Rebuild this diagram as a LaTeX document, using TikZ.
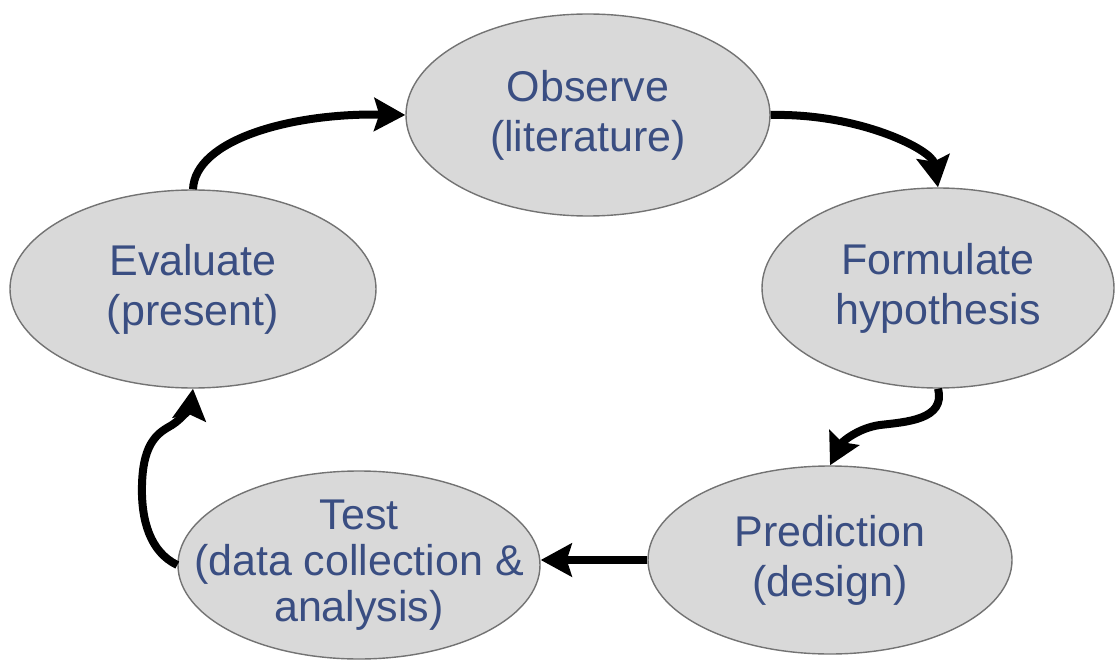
\documentclass[tikz,border=0pt]{standalone}
\usepackage{fontspec}
\setmainfont{Liberation Sans}
\usetikzlibrary{shapes.geometric,arrows.meta}
\definecolor{ellfill}{RGB}{217,217,217}
\definecolor{elldraw}{RGB}{115,115,115}
\definecolor{txtblue}{RGB}{58,78,130}
\tikzset{
  ell/.style={ellipse, draw=elldraw, fill=ellfill, line width=1.4pt, inner sep=0pt},
  lbl/.style={align=center, text=txtblue, font=\fontsize{43}{50}\selectfont, inner sep=0pt},
  conn/.style={line width=8pt, -{Stealth[length=31pt,width=33pt,inset=5pt]}},
}
\begin{document}
\begin{tikzpicture}[x=1pt,y=-1pt]
\useasboundingbox (0,0) rectangle (1115,660);
\fill[white] (0,0) rectangle (1115,660);

\node[ell, minimum width=364pt, minimum height=202pt] (obs) at (588,115) {};
\node[ell, minimum width=352pt, minimum height=200pt] (form) at (938,288) {};
\node[ell, minimum width=364pt, minimum height=188pt] (pred) at (830,560) {};
\node[ell, minimum width=362pt, minimum height=188pt] (test) at (359,565) {};
\node[ell, minimum width=366pt, minimum height=198pt] (eval) at (193,289) {};

\node[lbl] (obsT) at (obs) {Observe\\(literature)};
\node[lbl] (formT) at (form) {Formulate\\hypothesis};
\node[lbl] (predT) at (pred) {Prediction\\(design)};
\node[lbl, font=\fontsize{43}{46}\selectfont] (testT) at (test) {Test\\(data collection \&\\analysis)};
\node[lbl] (evalT) at (eval) {Evaluate\\(present)};

\draw[conn] (eval.north) .. controls (195,140) and (290,113) .. (obs.west);
\draw[conn] (obs.east) .. controls (860,113) and (932,150) .. (form.north);
\draw[conn] (form.south) .. controls (946,420) and (905,422) .. (880,425)
  .. controls (858,428) and (842,442) .. (pred.north);
\draw[conn] (pred.west) -- (test.east |- pred.west);
\draw[conn] (test.west) .. controls (150,552) and (141,520) .. (142,485)
  .. controls (143,440) and (160,432) .. (172,425)
  .. controls (183,418) and (191,405) .. (eval.south);
\end{tikzpicture}
\end{document}
